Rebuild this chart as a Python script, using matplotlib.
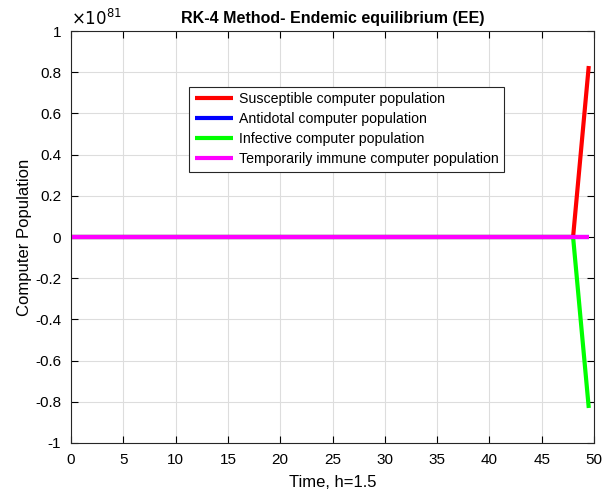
import numpy as np
import matplotlib
matplotlib.use("Agg")
import matplotlib.pyplot as plt
from matplotlib.ticker import FuncFormatter

plt.rcParams['font.family'] = ['Liberation Sans', 'DejaVu Sans']
plt.rcParams['axes.unicode_minus'] = False

time = [i * 1.5 for i in range(34)]  # 0 .. 49.5
susceptible = [0.0] * 32 + [0.0, 8.3e80]
antidotal = [0.0] * 34
infective = [0.0] * 32 + [0.0, -8.3e80]
immune = [0.0] * 34

labels = ["Susceptible computer population", "Antidotal computer population",
          "Infective computer population", "Temporarily immune computer population"]
colors = ["#ff0000", "#0000ff", "#00ff00", "#ff00ff"]

fig = plt.figure(figsize=(6.12, 4.97), dpi=100)
ax = fig.add_axes([71/612, 1 - 443/497, 523/612, 412/497])

for y, lab, c in zip([susceptible, antidotal, infective, immune], labels, colors):
    ax.plot(time, y, color=c, lw=3, label=lab, solid_capstyle='butt')

ax.set_xlim(0, 50)
ax.set_ylim(-1e81, 1e81)
ax.set_xticks(np.arange(0, 51, 5))
ax.set_yticks(np.arange(-1, 1.01, 0.2) * 1e81)
ax.yaxis.set_major_formatter(FuncFormatter(lambda v, p: "%g" % (round(v / 1e81, 2) + 0.0)))
ax.grid(True, color='#dddddd', lw=0.8)
ax.set_axisbelow(True)
ax.tick_params(direction='in', top=True, right=True, labelsize=11, length=5, width=0.8, pad=7)
for s in ax.spines.values():
    s.set_linewidth(0.8)
    s.set_color('#262626')
ax.text(0.0, 1.005, r"$\times10^{81}$", transform=ax.transAxes, fontsize=12,
        ha='left', va='bottom', fontfamily='DejaVu Sans')
ax.set_title("RK-4 Method- Endemic equilibrium (EE)", fontsize=11.5, fontweight='bold', pad=6)
ax.set_xlabel("Time, h=1.5", fontsize=12, labelpad=6)
ax.set_ylabel("Computer Population", fontsize=12, labelpad=2)

leg = ax.legend(loc='upper left', bbox_to_anchor=(0.226, 0.865), fontsize=10.2,
                frameon=True, fancybox=False, edgecolor='#262626', framealpha=1,
                handlelength=2.7, handletextpad=0.4, borderpad=0.4, labelspacing=0.42,
                borderaxespad=0)
leg.get_frame().set_linewidth(0.8)

fig.savefig("out.png", dpi=100, facecolor='white')
